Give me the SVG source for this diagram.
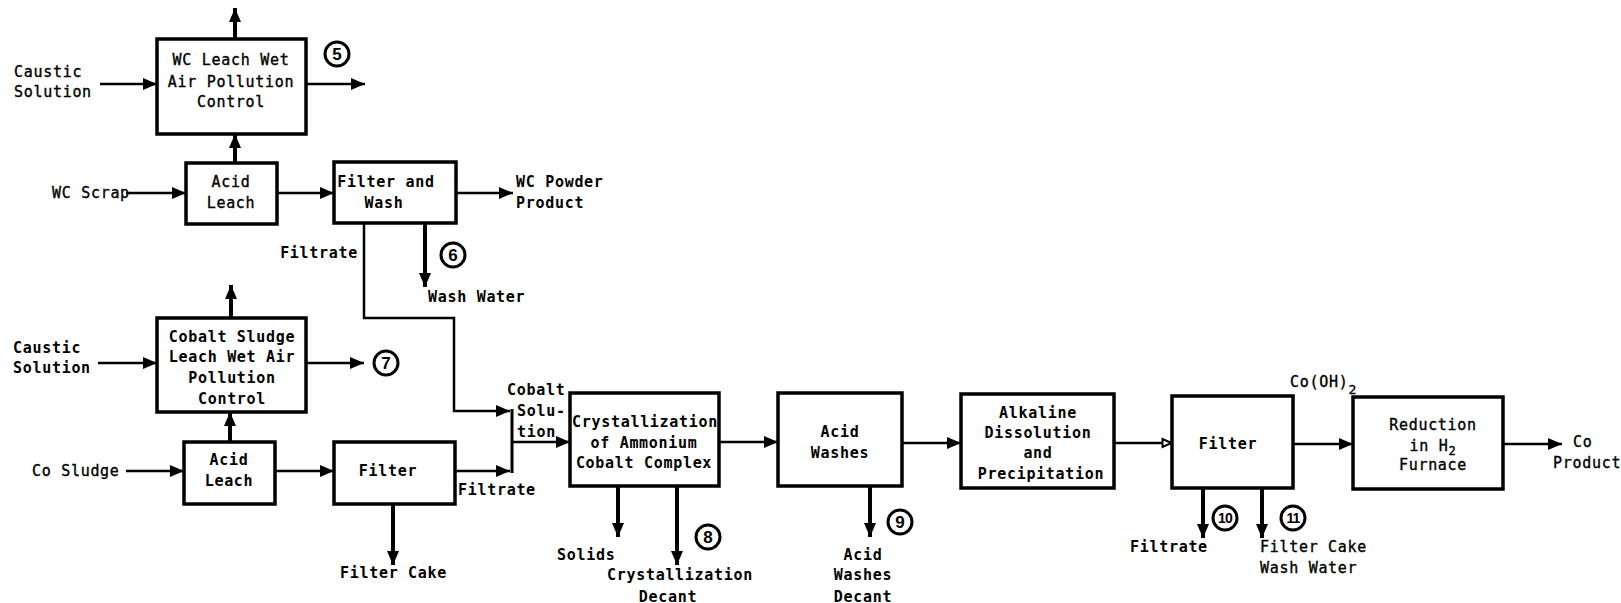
<svg xmlns="http://www.w3.org/2000/svg" width="1621" height="603" viewBox="0 0 1621 603">
<style>
text{font-family:"DejaVu Sans Mono","Liberation Mono",monospace;font-weight:bold;font-size:15px;letter-spacing:0.7px;fill:#000}
.c{text-anchor:middle}
.e{text-anchor:end}
.lt{font-weight:normal;stroke:#000;stroke-width:0.35px}
.box{fill:#fff;stroke:#000;stroke-width:3.5}
.a{fill:none;stroke:#000;stroke-width:2.5;marker-end:url(#ah)}
.at{fill:none;stroke:#000;stroke-width:4;marker-end:url(#ah)}
.l{fill:none;stroke:#000;stroke-width:3}
.ao{fill:none;stroke:#000;stroke-width:2.5;marker-end:url(#aho)}
.num circle{fill:#fff;stroke:#000;stroke-width:3}
.num text{font-family:"Liberation Sans",Arial,sans-serif;font-size:17px;letter-spacing:0;text-anchor:middle}
.num .n2{font-size:14px;letter-spacing:-0.8px}
</style>
<defs>
<marker id="ah" viewBox="0 0 14 12" refX="14" refY="6" markerWidth="14" markerHeight="12" markerUnits="userSpaceOnUse" orient="auto">
<path d="M0,0 L14,6 L0,12 z" fill="#000"/>
</marker>
<marker id="aho" viewBox="0 0 12 12" refX="11" refY="6" markerWidth="12" markerHeight="12" markerUnits="userSpaceOnUse" orient="auto">
<path d="M1.5,2 L10.5,6 L1.5,10 z" fill="#fff" stroke="#000" stroke-width="2"/>
</marker>
</defs>

<g id="connectors">
<line class="at" x1="235" y1="39" x2="235" y2="8"/>
<line class="a" x1="100" y1="84" x2="157" y2="84"/>
<line class="a" x1="306" y1="84" x2="365" y2="84"/>
<line class="at" x1="235" y1="163" x2="235" y2="134"/>
<line class="a" x1="126" y1="193" x2="186" y2="193"/>
<line class="a" x1="277" y1="193" x2="334" y2="193"/>
<line class="a" x1="456" y1="193" x2="513" y2="193"/>
<line class="at" x1="425" y1="223" x2="425" y2="287"/>
<polyline class="a" points="364,223 364,318 454,318 454,411 510,411"/>
<line class="at" x1="231" y1="318" x2="231" y2="285"/>
<line class="a" x1="98" y1="363" x2="157" y2="363"/>
<line class="a" x1="306" y1="363" x2="364" y2="363"/>
<line class="at" x1="230" y1="442" x2="230" y2="412"/>
<line class="a" x1="126" y1="471" x2="184" y2="471"/>
<line class="a" x1="275" y1="471" x2="334" y2="471"/>
<line class="a" x1="455" y1="471" x2="510" y2="471"/>
<line class="at" x1="393" y1="504" x2="393" y2="565"/>
<line class="l" x1="512" y1="409" x2="512" y2="473"/>
<line class="a" x1="512" y1="442" x2="570" y2="442"/>
<line class="at" x1="618" y1="486" x2="618" y2="537"/>
<line class="at" x1="677" y1="486" x2="677" y2="565"/>
<line class="a" x1="719" y1="442" x2="778" y2="442"/>
<line class="at" x1="870" y1="486" x2="870" y2="537"/>
<line class="a" x1="902" y1="443" x2="961" y2="443"/>
<line class="ao" x1="1114" y1="443" x2="1172" y2="443"/>
<line class="at" x1="1203" y1="488" x2="1203" y2="538"/>
<line class="at" x1="1262" y1="488" x2="1262" y2="538"/>
<line class="a" x1="1293" y1="444" x2="1353" y2="444"/>
<line class="a" x1="1503" y1="444" x2="1562" y2="444"/>
</g>

<g id="wc-leach-wap">
<rect class="box" x="157" y="39" width="149" height="95"/>
<text class="c lt" x="231" y="65">WC Leach Wet</text>
<text class="c lt" x="231" y="87">Air Pollution</text>
<text class="c lt" x="231" y="107">Control</text>
</g>
<g id="acid-leach-1">
<rect class="box" x="186" y="163" width="91" height="61"/>
<text class="c lt" x="231" y="187">Acid</text>
<text class="c lt" x="231" y="208">Leach</text>
</g>
<g id="filter-wash">
<rect class="box" x="334" y="162" width="122" height="61"/>
<text class="c" x="386" y="187">Filter and</text>
<text class="c" x="384" y="208">Wash</text>
</g>
<g id="cobalt-sludge-wap">
<rect class="box" x="157" y="318" width="149" height="94"/>
<text class="c" x="232" y="342">Cobalt Sludge</text>
<text class="c" x="232" y="362">Leach Wet Air</text>
<text class="c" x="232" y="383">Pollution</text>
<text class="c" x="232" y="404">Control</text>
</g>
<g id="acid-leach-2">
<rect class="box" x="184" y="442" width="91" height="62"/>
<text class="c" x="229" y="465">Acid</text>
<text class="c" x="229" y="486">Leach</text>
</g>
<g id="filter-1">
<rect class="box" x="334" y="442" width="121" height="62"/>
<text class="c" x="388" y="476">Filter</text>
</g>
<g id="crystallization">
<rect class="box" x="570" y="393" width="149" height="93"/>
<text class="c" x="645" y="427">Crystallization</text>
<text class="c" x="644" y="448">of Ammonium</text>
<text class="c" x="644" y="468">Cobalt Complex</text>
</g>
<g id="acid-washes">
<rect class="box" x="778" y="393" width="124" height="93"/>
<text class="c" x="840" y="437">Acid</text>
<text class="c" x="840" y="458">Washes</text>
</g>
<g id="alkaline">
<rect class="box" x="961" y="394" width="153" height="94"/>
<text class="c" x="1038" y="418">Alkaline</text>
<text class="c" x="1038" y="438">Dissolution</text>
<text class="c" x="1038" y="458">and</text>
<text class="c" x="1041" y="479">Precipitation</text>
</g>
<g id="filter-2">
<rect class="box" x="1172" y="396" width="121" height="92"/>
<text class="c" x="1228" y="449">Filter</text>
</g>
<g id="reduction">
<rect class="box" x="1353" y="397" width="150" height="92"/>
<text class="c lt" x="1433" y="430">Reduction</text>
<text class="c lt" x="1433" y="451">in H<tspan font-size="12" dy="4">2</tspan></text>
<text class="c lt" x="1433" y="470">Furnace</text>
</g>

<g id="labels">
<text class="lt" x="14" y="77">Caustic</text>
<text class="lt" x="14" y="97">Solution</text>
<text class="lt" x="52" y="198">WC Scrap</text>
<text x="516" y="187">WC Powder</text>
<text x="516" y="208">Product</text>
<text class="e" x="358" y="258">Filtrate</text>
<text x="428" y="302">Wash Water</text>
<text x="13" y="353">Caustic</text>
<text x="13" y="373">Solution</text>
<text class="lt" x="32" y="476">Co Sludge</text>
<text x="340" y="578">Filter Cake</text>
<text x="458" y="495">Filtrate</text>
<text x="507" y="395">Cobalt</text>
<text x="517" y="416">Solu-</text>
<text x="517" y="437">tion</text>
<text x="557" y="560">Solids</text>
<text x="607" y="580">Crystallization</text>
<text class="c" x="668" y="602">Decant</text>
<text class="c" x="863" y="560">Acid</text>
<text class="c" x="863" y="580">Washes</text>
<text class="c" x="863" y="602">Decant</text>
<text x="1130" y="552">Filtrate</text>
<text class="lt" x="1260" y="552">Filter Cake</text>
<text class="lt" x="1260" y="573">Wash Water</text>
<text class="lt" x="1290" y="387" font-size="14">Co(OH)<tspan font-size="13" dy="7">2</tspan></text>
<text class="lt" x="1573" y="447">Co</text>
<text class="lt" x="1553" y="468">Product</text>
</g>

<g id="stream-numbers" class="num">
<g id="n5"><circle cx="337" cy="54" r="12"/><text x="337" y="60">5</text></g>
<g id="n6"><circle cx="453" cy="255" r="12"/><text x="453" y="261">6</text></g>
<g id="n7"><circle cx="386" cy="363" r="12"/><text x="386" y="369">7</text></g>
<g id="n8"><circle cx="708" cy="537" r="12"/><text x="708" y="543">8</text></g>
<g id="n9"><circle cx="900" cy="522" r="12"/><text x="900" y="528">9</text></g>
<g id="n10"><circle cx="1225" cy="518" r="12"/><text class="n2" x="1225" y="523">10</text></g>
<g id="n11"><circle cx="1293" cy="518" r="12"/><text class="n2" x="1293" y="523">11</text></g>
</g>
</svg>
